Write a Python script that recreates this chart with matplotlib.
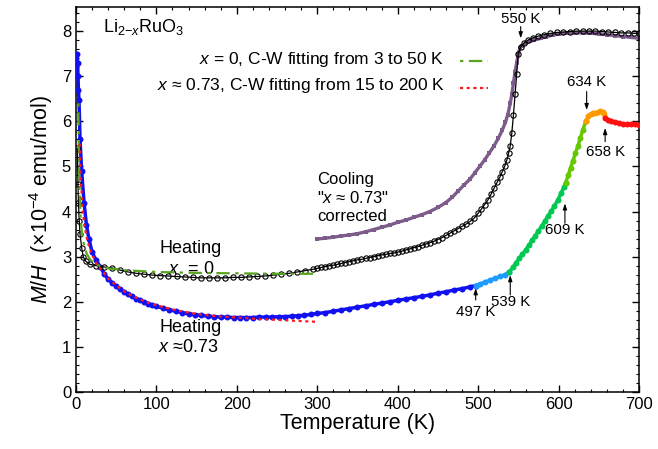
import matplotlib
matplotlib.use("Agg")
import matplotlib.pyplot as plt
from matplotlib.ticker import MultipleLocator

plt.rcParams['font.family'] = ['Liberation Sans', 'DejaVu Sans']
plt.rcParams['mathtext.fontset'] = 'custom'
plt.rcParams['mathtext.rm'] = 'Liberation Sans'
plt.rcParams['mathtext.it'] = 'Liberation Sans:italic'

# heating, x = 0 (open circles)
t_x0 = [1.7, 2.5, 3, 4, 5, 7, 9, 12, 17, 25, 35, 45, 55, 65, 75, 85, 95, 105,
        115, 125, 135, 145, 155, 165, 175, 185, 195, 205, 215, 225, 235, 245,
        255, 265, 275, 285, 295, 300, 305, 310, 315, 320, 325, 330, 335, 340,
        345, 350, 355, 360, 365, 370, 375, 380, 385, 390, 395, 400, 405, 410,
        415, 420, 425, 430, 435, 440, 445, 450, 455, 460, 465, 470, 475, 480,
        485, 490, 495, 500, 504, 508, 512, 516, 520, 524, 527, 530, 533, 536,
        538, 540, 542, 544, 546, 548, 550, 553, 557, 562, 568, 575, 582, 590,
        598, 606, 614, 622, 630, 638, 646, 654, 662, 670, 678, 686, 694, 700]
m_x0 = [5.4, 4.6, 4.2, 3.8, 3.5, 3.2, 3.0, 2.9, 2.83, 2.8, 2.77, 2.75, 2.7, 2.66,
        2.63, 2.61, 2.59, 2.58, 2.57, 2.56, 2.55, 2.54, 2.53, 2.53, 2.53, 2.53,
        2.54, 2.54, 2.55, 2.56, 2.57, 2.59, 2.61, 2.63, 2.66, 2.69, 2.72, 2.74,
        2.76, 2.78, 2.8, 2.81, 2.83, 2.85, 2.87, 2.89, 2.91, 2.93, 2.94, 2.96,
        2.98, 3.0, 3.02, 3.04, 3.05, 3.07, 3.08, 3.1, 3.12, 3.15, 3.17, 3.2,
        3.22, 3.25, 3.28, 3.31, 3.34, 3.38, 3.42, 3.47, 3.52, 3.57, 3.62, 3.67,
        3.72, 3.78, 3.85, 3.96, 4.05, 4.15, 4.25, 4.38, 4.52, 4.66, 4.76, 4.88,
        5.0, 5.15, 5.3, 5.45, 5.75, 6.15, 6.6, 7.05, 7.5, 7.65, 7.73, 7.8,
        7.85, 7.89, 7.92, 7.95, 7.97, 7.98, 7.99, 8.0, 8.0, 8.0, 8.0, 7.99,
        7.98, 7.97, 7.96, 7.96, 7.95, 7.95]

# heating, x ~ 0.73 (filled circles, coloured by range)
t_blue = [1.6, 2, 2.5, 3, 3.7, 5, 7, 10, 13, 16, 20, 25, 30, 35, 40, 45, 50, 55,
          60, 65, 70, 75, 80, 85, 90, 95, 100, 108, 116, 124, 132, 140, 148, 156,
          164, 172, 180, 188, 196, 204, 212, 220, 228, 236, 244, 252, 260, 268,
          276, 284, 292, 300, 310, 320, 330, 340, 350, 360, 370, 380, 390, 400,
          410, 420, 430, 440, 450, 460, 470, 480, 490, 497]
m_blue = [7.5, 7.3, 7.0, 6.7, 6.47, 5.6, 4.9, 4.2, 3.7, 3.4, 3.1, 2.92, 2.78,
          2.62, 2.5, 2.42, 2.35, 2.28, 2.22, 2.17, 2.12, 2.07, 2.03, 1.99, 1.96,
          1.93, 1.9, 1.86, 1.82, 1.79, 1.76, 1.73, 1.71, 1.7, 1.68, 1.67, 1.66,
          1.66, 1.65, 1.65, 1.65, 1.65, 1.66, 1.66, 1.66, 1.67, 1.67, 1.68, 1.69,
          1.7, 1.72, 1.74, 1.76, 1.79, 1.82, 1.85, 1.88, 1.91, 1.94, 1.97, 2.0,
          2.03, 2.06, 2.09, 2.12, 2.15, 2.19, 2.22, 2.26, 2.29, 2.33, 2.36]
t_lblue = [497, 503, 509, 515, 521, 527, 533, 539]
m_lblue = [2.36, 2.4, 2.44, 2.48, 2.52, 2.56, 2.6, 2.66]
t_green = [539, 543, 547, 551, 555, 559, 563, 567, 571, 575, 579, 583, 587, 591,
           595, 599, 603, 607, 609]
m_green = [2.66, 2.76, 2.86, 2.96, 3.05, 3.15, 3.25, 3.36, 3.46, 3.57, 3.68,
           3.79, 3.9, 4.01, 4.13, 4.25, 4.4, 4.55, 4.64]
t_lime = [609, 612, 615, 618, 621, 624, 627, 630, 634]
m_lime = [4.64, 4.8, 4.97, 5.13, 5.29, 5.45, 5.62, 5.8, 6.0]
t_orange = [634, 637, 640, 643, 646, 649, 652, 655, 657]
m_orange = [6.0, 6.12, 6.16, 6.18, 6.19, 6.2, 6.22, 6.2, 6.16]
t_red = [658, 661, 665, 670, 675, 680, 685, 690, 695, 700]
m_red = [6.07, 6.03, 6.0, 5.98, 5.96, 5.95, 5.94, 5.93, 5.93, 5.92]

# cooling, x ~ 0.73 corrected
t_cool = [300, 310, 320, 330, 340, 350, 360, 370, 380, 390, 400, 410, 420, 430,
          440, 450, 460, 468, 475, 482, 490, 496, 502, 508, 514, 520, 525, 530,
          534, 537, 540, 542, 544, 546, 548, 550, 552, 555, 560, 565, 570, 578,
          585, 593, 600, 610, 620, 630, 640, 650, 660, 670, 680, 690, 700]
m_cool = [3.39, 3.41, 3.43, 3.46, 3.48, 3.51, 3.55, 3.6, 3.65, 3.7, 3.76, 3.81,
          3.87, 3.93, 4.0, 4.09, 4.2, 4.32, 4.45, 4.58, 4.72, 4.86, 5.0, 5.14,
          5.3, 5.46, 5.62, 5.8, 5.98, 6.15, 6.4, 6.6, 6.85, 7.1, 7.3, 7.5, 7.62,
          7.68, 7.74, 7.77, 7.8, 7.84, 7.88, 7.91, 7.94, 7.95, 7.96, 7.96, 7.95,
          7.94, 7.92, 7.9, 7.88, 7.86, 7.84]

# Curie-Weiss fits
t_fit0 = [2.9, 3.5, 4, 5, 6, 7, 8, 10, 13, 17, 22, 30, 40, 60, 100, 150, 200, 250, 300]
m_fit0 = [6.4, 5.4, 4.85, 4.2, 3.8, 3.6, 3.45, 3.25, 3.08, 2.95, 2.86, 2.79,
          2.74, 2.7, 2.66, 2.64, 2.63, 2.62, 2.62]
t_fit73 = [4.5, 5, 6, 8, 10, 13, 16, 20, 25, 30, 40, 50, 60, 70, 80, 90, 100,
           125, 150, 175, 200, 225, 250, 275, 300]
m_fit73 = [5.5, 5.15, 4.7, 4.1, 3.75, 3.45, 3.24, 3.04, 2.87, 2.74, 2.52, 2.36,
           2.23, 2.13, 2.05, 1.98, 1.92, 1.81, 1.73, 1.68, 1.65, 1.62, 1.6, 1.575, 1.555]

c_green = '#5aa51e'
fig = plt.figure(figsize=(6.58, 4.49), dpi=100)
ax = fig.add_axes([0.1155, 0.127, 0.8555, 0.857])

ax.plot(t_cool, m_cool, color='#7d5c8c', lw=2.4, marker='s', ms=2.6,
        mew=0, zorder=2)

for t, m, col in [(t_blue, m_blue, '#1010f0'), (t_lblue, m_lblue, '#1e9bff'),
                  (t_green, m_green, '#00c853'), (t_lime, m_lime, '#66c800'),
                  (t_orange, m_orange, '#ff9a00'), (t_red, m_red, '#ff1010')]:
    ax.plot(t, m, color=col, lw=2.5, marker='o', ms=4.3, mew=0, zorder=3)

ax.plot(t_x0, m_x0, color='black', lw=0.9, marker='o', ms=3.8,
        mfc='none', mec='black', mew=0.8, zorder=4)

fit0, = ax.plot(t_fit0, m_fit0, color=c_green, lw=1.6, zorder=5)
fit0.set_dashes([1.5, 2.5, 6, 2.5])
fit73, = ax.plot(t_fit73, m_fit73, color='#ff1a1a', lw=1.6, zorder=5)
fit73.set_dashes([1.4, 1.6])

# legend drawn by hand so the texts line up on the right
for yy, ly, lab, col, dash in [(0.864, 0.859, r'$x$ = 0, C-W fitting from 3 to 50 K', c_green, [1.5, 2.5, 6, 2.5]),
                               (0.797, 0.789, r'$x$ ≈ 0.73, C-W fitting from 15 to 200 K', '#ff1a1a', [1.4, 1.6])]:
    ax.text(0.655, yy, lab, transform=ax.transAxes, ha='right', va='center', fontsize=12.5)
    ln, = ax.plot([0.682, 0.732], [ly, ly], transform=ax.transAxes, color=col, lw=1.6)
    ln.set_dashes(dash)

ax.text(33, 8.09, r'Li$_{2\mathrm{-}x}$RuO$_3$', fontsize=13, va='center')

ax.text(142, 3.19, 'Heating', fontsize=13, ha='center', va='center')
ax.text(144, 2.72, r'$x$  = 0', fontsize=13, ha='center', va='center')
ax.text(142, 1.44, 'Heating', fontsize=13, ha='center', va='center')
ax.text(140, 0.98, r'$x$ ≈0.73', fontsize=13, ha='center', va='center')
ax.text(300, 4.7, 'Cooling', fontsize=12, va='center')
ax.text(300, 4.3, r'"$x$ ≈ 0.73"', fontsize=12, va='center')
ax.text(300, 3.9, 'corrected', fontsize=12, va='center')

arrows = [('550 K', 553, 8.27, 8.1, 7.84),
          ('634 K', 635, 6.88, 6.66, 6.25),
          ('658 K', 658, 5.33, 5.55, 5.85),
          ('609 K', 608, 3.59, 3.74, 4.18),
          ('539 K', 540, 2.0, 2.15, 2.59),
          ('497 K', 497, 1.78, 2.04, 2.3)]
for lab, tx, ty, y0, y1 in arrows:
    ax.text(tx, ty, lab, fontsize=10.8, ha='center', va='center')
    ax.annotate('', xy=(tx, y1), xytext=(tx, y0),
                arrowprops=dict(arrowstyle='-|>,head_length=0.35,head_width=0.12',
                                color='black', lw=0.8, shrinkA=0, shrinkB=0))

ax.set_xlim(0, 700)
ax.set_ylim(0, 8.53)
ax.xaxis.set_major_locator(MultipleLocator(100))
ax.xaxis.set_minor_locator(MultipleLocator(20))
ax.yaxis.set_major_locator(MultipleLocator(1))
ax.yaxis.set_minor_locator(MultipleLocator(0.2))
ax.tick_params(which='both', direction='in', top=True, right=True, labelsize=12)
ax.tick_params(which='major', length=5, width=1)
ax.tick_params(which='minor', length=2.5, width=0.8)
for s in ax.spines.values():
    s.set_linewidth(1.1)

ax.set_xlabel('Temperature (K)', fontsize=15.5, labelpad=1)
ax.set_ylabel(r'$M/H$  ($\times$10$^{-4}$ emu/mol)', fontsize=15.5, labelpad=5)

plt.savefig('out.png', dpi=100)
